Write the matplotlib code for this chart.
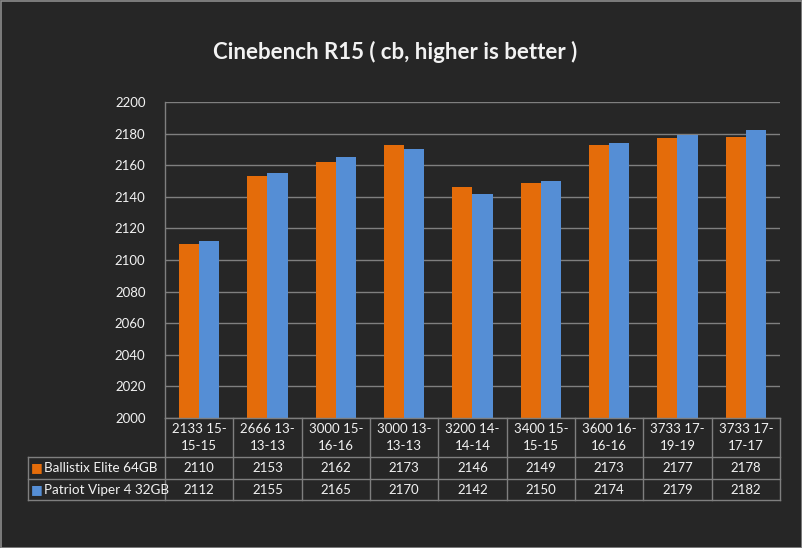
import matplotlib
matplotlib.use("Agg")
import matplotlib.pyplot as plt
import numpy as np
from matplotlib.patches import Rectangle

plt.rcParams["font.family"] = ["Lato", "DejaVu Sans"]

# data
CATEGORIES = ["2133 15-\n15-15", "2666 13-\n13-13", "3000 15-\n16-16", "3000 13-\n13-13",
              "3200 14-\n14-14", "3400 15-\n15-15", "3600 16-\n16-16", "3733 17-\n19-19",
              "3733 17-\n17-17"]
SERIES = ["Ballistix Elite 64GB", "Patriot Viper 4 32GB"]
BALLISTIX = [2110, 2153, 2162, 2173, 2146, 2149, 2173, 2177, 2178]
PATRIOT = [2112, 2155, 2165, 2170, 2142, 2150, 2174, 2179, 2182]
COLORS = ["#E46C0A", "#558ED5"]
Y_TICKS = list(range(2000, 2201, 20))

BG = "#262626"
GRID = "#7F7F7F"
TXT = "#F2F2F2"

W, H = 803, 548
fig = plt.figure(figsize=(W / 100, H / 100), dpi=100, facecolor=BG)


def fx(px):
    return px / W


def fy(py):
    return 1 - py / H


# outer border
fig.patches.append(Rectangle((0.5 / W, 0.5 / H), 1 - 1.5 / W, 1 - 1.5 / H, transform=fig.transFigure,
                             fill=False, edgecolor="#8C8C8C", linewidth=1.2))

PL, PR, PT, PB = 165, 780, 102, 418
ax = fig.add_axes([fx(PL), fy(PB), fx(PR - PL), fy(PT) - fy(PB)])
ax.set_facecolor(BG)

n = len(CATEGORIES)
x = np.arange(n)
bw = 0.293
for vals, color, off in zip([BALLISTIX, PATRIOT], COLORS, [-bw / 2, bw / 2]):
    ax.bar(x + off, [v - 2000 for v in vals], bw, bottom=2000, color=color, zorder=3)

ax.set_xlim(-0.5, n - 0.5)
ax.set_ylim(2000, 2200)
ax.set_yticks(Y_TICKS)
ax.set_yticklabels([str(t) for t in Y_TICKS], color=TXT, fontsize=9.5)
ax.tick_params(axis="y", length=0, pad=14)
ax.set_xticks([])
ax.grid(axis="y", color=GRID, linewidth=1, zorder=0)
for s in ["top", "right", "bottom"]:
    ax.spines[s].set_visible(False)
ax.spines["left"].set_color(GRID)
ax.spines["left"].set_linewidth(1)

# data table below the plot
TL, TB = 28, 500
col_w = (PR - PL) / n
label_w = (PL - TL) / col_w
tax = fig.add_axes([fx(TL), fy(TB), fx(PR - TL), fy(PB) - fy(TB)])
tax.set_xlim(-0.5 - label_w, n - 0.5)
tax.set_ylim(TB, PB)
tax.axis("off")
rows_y = [PB, 457, 479, TB]
lk = dict(color=GRID, linewidth=1, clip_on=False)
# horizontal lines
tax.plot([-0.5, n - 0.5], [rows_y[0]] * 2, **lk)
for yy in rows_y[1:]:
    tax.plot([-0.5 - label_w, n - 0.5], [yy] * 2, **lk)
# vertical lines
tax.plot([-0.5 - label_w] * 2, [rows_y[1], TB], **lk)
for i in range(n + 1):
    tax.plot([i - 0.5] * 2, [PB, TB], **lk)

for i, cat in enumerate(CATEGORIES):
    tax.text(i, (rows_y[0] + rows_y[1]) / 2, cat, ha="center", va="center", color=TXT,
             fontsize=9.5, linespacing=1.5)
for r, (name, vals, color) in enumerate(zip(SERIES, [BALLISTIX, PATRIOT], COLORS)):
    yc = (rows_y[r + 1] + rows_y[r + 2]) / 2
    for i, v in enumerate(vals):
        tax.text(i, yc, str(v), ha="center", va="center", color=TXT, fontsize=9.5)
    tax.text(-0.5 - label_w + 0.04, yc, "\u25A0", ha="left", va="center", color=color, fontsize=9,
             family="DejaVu Sans")
    tax.text(-0.5 - label_w + 0.23, yc, name, ha="left", va="center", color=TXT, fontsize=9.7)

fig.text(fx(395), fy(52), "Cinebench R15 ( cb, higher is better )", ha="center", va="center",
         color=TXT, fontsize=16, fontweight="bold")

fig.savefig("out.png", dpi=100, facecolor=BG)
